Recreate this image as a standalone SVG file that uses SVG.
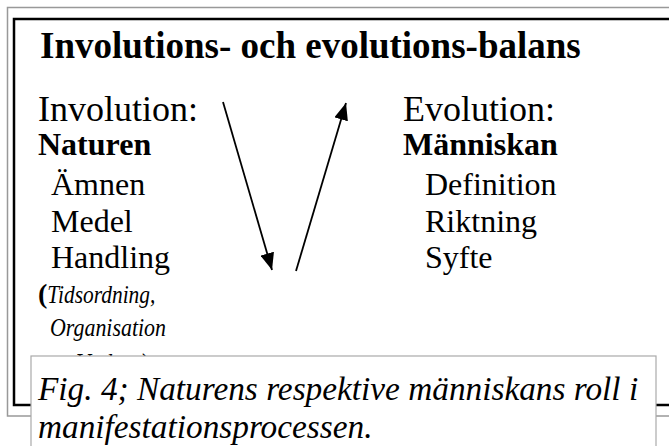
<svg xmlns="http://www.w3.org/2000/svg" width="669" height="446" viewBox="0 0 669 446">
<defs>
<style>
text{font-family:"Liberation Serif","Times New Roman",serif;fill:#000}
.t{font-size:37px;font-weight:bold}
.h{font-size:36px}
.b{font-size:32px;font-weight:bold}
.i{font-size:32px}
.p{font-size:26px;font-style:italic}
.c{font-size:33.3px;font-style:italic}
.arrow{stroke:#000;stroke-width:1.8;fill:none}
</style>
<marker id="ah" viewBox="0 0 10 10" refX="10" refY="5" markerWidth="17" markerHeight="14" markerUnits="userSpaceOnUse" orient="auto" preserveAspectRatio="none">
<path d="M0,0 L10,5 L0,10 z" fill="#000"/>
</marker>
</defs>
<rect x="0" y="0" width="669" height="446" fill="#fff"/>
<g id="frame">
<rect x="7.5" y="7.5" width="680" height="408.5" fill="none" stroke="#999" stroke-width="1.5"/>
<rect x="14" y="19" width="680" height="386" fill="none" stroke="#000" stroke-width="2.5"/>
</g>
<g id="title"><text class="t" x="40" y="58">Involutions- och evolutions-balans</text></g>
<g id="involution">
<text class="h" x="38" y="121">Involution:</text>
<text class="b" x="38" y="155">Naturen</text>
<text class="i" x="51" y="195">Ämnen</text>
<text class="i" x="51" y="232">Medel</text>
<text class="i" x="51" y="268">Handling</text>
<text x="38" y="303"><tspan style="font-size:28px;font-weight:bold">(</tspan><tspan class="p" textLength="108" lengthAdjust="spacingAndGlyphs">Tidsordning,</tspan></text>
<text class="p" x="50" y="336" textLength="116" lengthAdjust="spacingAndGlyphs">Organisation</text>
<text class="p" x="76" y="371" textLength="72" lengthAdjust="spacingAndGlyphs">Verkan)</text>
</g>
<g id="evolution">
<text class="h" x="403" y="121">Evolution:</text>
<text class="b" x="403" y="155">Människan</text>
<text class="i" x="425" y="195">Definition</text>
<text class="i" x="425" y="232">Riktning</text>
<text class="i" x="425" y="268">Syfte</text>
</g>
<g id="connectors">
<path class="arrow" d="M223,102 L272,270" marker-end="url(#ah)"/>
<path class="arrow" d="M296,271 L346,103" marker-end="url(#ah)"/>
</g>
<g id="caption">
<rect x="31" y="356" width="625" height="100" fill="#fff" stroke="#aaa" stroke-width="1.2"/>
<text class="c" x="38" y="400">Fig. 4; Naturens respektive människans roll i</text>
<text class="c" x="38" y="438">manifestationsprocessen.</text>
</g>
</svg>
